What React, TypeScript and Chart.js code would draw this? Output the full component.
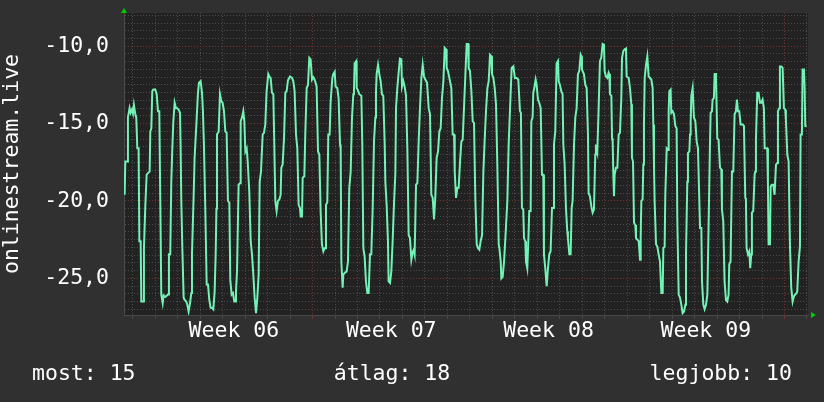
import React, { useEffect, useRef } from 'react';
import { Chart, registerables } from 'chart.js';

Chart.register(...registerables);

// ---------- data (x = hours since start of Week 06, y = value) ----------
const seriesLabel = 'onlinestream.live';
const weekLabels = ['Week 06', 'Week 07', 'Week 08', 'Week 09'];
const weekLabelHours = [84, 252, 420, 588];
const weekStartHours = [0, 168, 336, 504, 672];
const footerCurrent = 15;
const footerAverage = 18;
const footerBest = 10;

const week05: [number, number][] = [
  [-32.7, -19.6], [-32.0, -17.45], [-29.9, -17.45], [-29.2, -14.6], [-27.4, -14.0], [-26.3, -14.3],
  [-24.9, -14.1], [-23.8, -14.35], [-22.8, -13.8], [-21.3, -14.4], [-20.3, -14.6], [-19.2, -16.6],
  [-17.8, -16.6], [-17.0, -22.6], [-15.6, -22.6], [-14.9, -26.5], [-13.1, -26.5], [-12.1, -23.05],
  [-10.6, -20.25], [-9.2, -18.3], [-7.8, -18.2], [-6.0, -18.1], [-5.3, -15.5], [-4.2, -15.3],
  [-3.2, -12.9], [-2.1, -12.8],
];

const week06: [number, number][] = [
  [0.0, -12.8], [1.5, -13.1], [2.9, -14.2], [4.3, -14.2], [5.4, -20.25], [6.4, -26.05], [7.9, -26.6],
  [8.9, -26.1], [10.7, -26.2], [13.6, -26.05], [14.6, -23.45], [16.0, -23.45], [17.1, -18.75],
  [18.2, -16.6], [19.3, -14.85], [20.7, -13.65], [22.1, -14.0], [23.5, -14.0], [24.9, -14.1],
  [26.4, -14.3], [27.1, -16.6], [27.8, -20.0], [28.9, -23.05], [30.3, -26.25], [31.4, -26.4],
  [33.1, -26.5], [34.2, -26.7], [35.6, -27.15], [37.1, -26.6], [38.5, -25.95], [39.2, -23.45],
  [41.0, -19.6], [42.0, -17.2], [43.8, -15.15], [45.6, -13.0], [46.7, -12.35], [48.4, -12.25],
  [49.9, -13.0], [50.9, -14.2], [52.0, -16.45], [53.4, -20.45], [54.9, -25.4], [56.3, -25.4],
  [57.7, -26.4], [59.1, -26.9], [60.5, -26.9], [62.0, -27.0], [63.4, -25.85], [64.5, -23.45],
  [65.3, -20.5], [65.9, -15.7], [67.7, -15.5], [69.1, -13.1], [70.5, -13.55], [71.9, -13.65],
  [73.4, -14.2], [74.8, -15.5], [76.2, -15.6], [77.6, -20.0], [79.1, -20.1], [80.1, -25.1],
  [81.6, -26.05], [83.0, -25.95], [84.4, -26.5], [85.5, -26.5], [86.2, -25.85], [87.3, -24.55],
  [88.3, -24.55], [89.0, -18.95], [90.5, -18.85], [91.2, -14.85], [92.6, -14.6], [94.0, -14.2],
  [95.1, -14.85], [96.2, -16.8], [97.6, -16.6], [98.7, -17.45], [100.4, -19.4], [101.9, -22.6],
  [103.3, -23.45], [104.7, -24.75], [106.1, -26.25], [107.6, -27.25], [109.0, -26.25], [110.4, -24.75],
  [111.5, -18.75], [112.9, -18.1], [114.7, -15.7], [116.1, -15.6], [117.5, -15.05], [118.9, -12.9],
  [120.7, -11.8], [121.8, -11.95], [123.2, -12.05], [124.6, -13.0], [126.1, -13.1], [127.5, -17.65],
  [128.2, -20.0], [129.6, -20.65], [131.0, -20.0], [132.5, -19.9], [133.9, -19.6], [134.6, -17.85],
  [136.0, -17.65], [137.5, -15.95], [138.9, -13.0], [140.3, -12.9], [141.7, -12.2], [143.9, -11.95],
  [146.0, -12.05], [147.4, -12.25], [148.8, -12.9], [150.3, -15.7], [151.7, -16.6], [153.1, -20.25],
  [154.5, -20.45], [155.3, -21.0], [156.7, -21.0], [157.4, -18.5], [159.2, -18.4], [160.2, -15.7],
  [161.7, -12.7], [163.1, -12.5], [164.5, -10.75], [165.9, -10.85], [167.4, -12.15],
];

const week07: [number, number][] = [
  [168.8, -12.0], [170.2, -12.15], [172.3, -12.6], [173.8, -16.8], [175.2, -17.0], [176.6, -20.65],
  [178.0, -22.8], [179.5, -23.25], [180.9, -23.05], [182.0, -23.05], [182.3, -20.25], [183.7, -20.1],
  [184.8, -15.7], [186.2, -15.7], [187.3, -13.55], [189.1, -12.05], [190.1, -11.8], [191.6, -11.65],
  [192.6, -12.6], [194.4, -12.7], [195.8, -13.35], [197.3, -16.35], [198.0, -16.6], [198.7, -23.9],
  [200.1, -25.6], [200.8, -24.75], [202.3, -24.65], [204.4, -24.55], [205.8, -23.9], [207.2, -19.15],
  [208.7, -18.1], [210.1, -14.6], [211.5, -13.1], [212.2, -12.9], [212.9, -11.1], [214.7, -10.95],
  [215.1, -12.7], [216.5, -12.85], [217.9, -13.1], [220.1, -13.2], [221.1, -16.35], [222.2, -23.05],
  [223.6, -23.6], [225.0, -25.2], [226.5, -25.95], [227.9, -25.95], [229.3, -23.45], [230.7, -23.45],
  [232.2, -20.45], [233.6, -16.15], [235.0, -14.6], [235.7, -13.0], [236.4, -11.8], [237.9, -11.2],
  [239.3, -11.8], [240.7, -12.25], [242.1, -13.1], [243.5, -13.2], [245.0, -16.25], [245.7, -18.75],
  [247.1, -20.25], [248.5, -22.6], [249.2, -25.2], [250.7, -25.3], [252.1, -24.55], [253.5, -22.6],
  [254.9, -20.25], [256.4, -18.2], [257.1, -14.0], [258.5, -12.7], [259.9, -11.7], [261.3, -10.8],
  [262.8, -10.85], [263.5, -12.6], [264.9, -12.25], [266.3, -12.6], [267.8, -13.2], [269.2, -16.6],
  [270.6, -22.2], [272.0, -22.4], [273.5, -23.8], [274.9, -23.3], [276.0, -23.15], [277.0, -23.45],
  [278.5, -18.95], [279.9, -18.85], [281.3, -16.15], [282.7, -14.0], [284.2, -12.05], [285.6, -11.2],
  [287.0, -11.95], [288.4, -12.15], [290.2, -12.35], [292.0, -14.0], [293.4, -14.4], [294.8, -19.6],
  [296.3, -19.8], [297.7, -21.2], [299.1, -19.7], [300.5, -17.2], [302.0, -16.8], [303.4, -15.5],
  [304.8, -15.3], [306.2, -13.35], [307.7, -12.25], [309.1, -10.1], [310.5, -10.2], [311.2, -11.4],
  [312.6, -11.6], [314.1, -12.05], [316.2, -12.7], [317.6, -15.7], [319.1, -15.7], [319.8, -18.1],
  [321.2, -19.8], [322.6, -19.15], [324.0, -19.15], [325.5, -17.45], [326.9, -16.15], [328.3, -16.05],
  [329.7, -14.0], [331.2, -11.8], [332.6, -9.85], [334.0, -9.85], [334.7, -11.4],
];

const week08: [number, number][] = [
  [336.1, -11.6], [337.6, -12.9], [339.0, -14.85], [340.4, -14.95], [341.8, -19.8], [343.3, -22.8],
  [344.7, -23.05], [346.1, -23.15], [347.5, -22.6], [349.0, -22.2], [350.4, -18.1], [351.8, -16.05],
  [353.2, -14.2], [354.7, -12.7], [356.1, -12.25], [357.5, -10.55], [358.9, -10.65], [359.6, -11.8],
  [361.1, -12.05], [362.5, -12.7], [363.9, -13.75], [365.3, -17.65], [366.8, -22.8], [367.5, -23.05],
  [368.9, -23.9], [369.6, -25.0], [371.0, -24.9], [372.5, -23.9], [373.9, -22.4], [376.0, -20.0],
  [377.4, -16.35], [378.9, -14.0], [380.6, -11.4], [382.4, -11.3], [384.1, -12.05], [385.9, -12.05],
  [387.7, -12.15], [389.5, -14.2], [390.5, -14.3], [391.6, -20.45], [393.0, -20.55], [393.8, -22.4],
  [395.2, -22.6], [395.9, -23.9], [397.3, -24.35], [398.4, -22.6], [399.4, -20.65], [400.9, -20.65],
  [401.6, -14.85], [403.0, -14.6], [403.7, -13.0], [404.8, -12.7], [406.2, -12.15], [407.3, -12.5],
  [408.7, -13.45], [410.1, -13.65], [411.6, -14.0], [413.0, -18.3], [414.4, -18.3], [415.1, -23.45],
  [416.5, -24.35], [418.0, -25.5], [419.4, -24.35], [420.8, -23.45], [422.2, -23.25], [423.7, -20.45],
  [425.1, -20.45], [425.8, -16.35], [427.2, -15.5], [428.6, -11.1], [430.1, -10.95], [430.8, -12.25],
  [432.2, -12.5], [433.6, -12.9], [435.0, -13.1], [435.8, -16.35], [437.2, -17.65], [438.6, -20.45],
  [440.0, -21.95], [440.7, -22.4], [442.2, -23.45], [443.6, -23.45], [444.7, -20.45], [445.7, -20.0],
  [447.2, -16.35], [448.6, -14.6], [450.0, -14.0], [451.4, -11.8], [452.8, -11.6], [454.3, -10.55],
  [455.0, -10.65], [455.7, -11.5], [456.4, -11.6], [457.8, -11.8], [459.3, -12.5], [460.7, -12.7],
  [462.1, -15.7], [462.8, -19.5], [464.2, -19.7], [465.7, -20.35], [467.1, -20.75], [468.5, -20.55],
  [469.9, -17.0], [470.6, -16.35], [472.1, -16.8], [473.5, -14.0], [474.9, -10.95], [476.3, -10.75],
  [477.8, -9.85], [479.2, -9.9], [479.9, -11.6], [481.3, -11.95], [482.8, -12.05], [484.2, -11.7],
  [484.9, -11.8], [485.6, -13.1], [487.1, -13.2], [487.8, -15.95], [488.5, -16.15], [489.2, -18.3],
  [489.9, -19.7], [490.6, -18.3], [492.0, -17.85], [493.5, -17.85], [494.9, -15.7], [496.3, -15.6],
  [497.7, -13.35], [498.5, -10.75], [499.9, -10.3], [501.3, -10.2], [502.7, -10.15], [503.4, -11.95],
];

const week09: [number, number][] = [
  [505.6, -12.05], [507.0, -12.7], [508.4, -13.75], [509.1, -17.2], [510.2, -17.45], [511.3, -21.4],
  [512.7, -21.55], [513.4, -22.4], [514.8, -22.5], [516.3, -22.6], [517.7, -23.8], [518.4, -22.4],
  [519.1, -20.0], [520.5, -19.9], [521.2, -17.65], [521.9, -15.05], [522.7, -12.05], [524.1, -11.2],
  [525.5, -10.65], [526.9, -11.95], [528.4, -12.05], [529.8, -12.15], [531.2, -12.7], [531.9, -15.05],
  [532.6, -17.65], [533.3, -20.0], [534.8, -22.8], [536.2, -22.95], [537.6, -23.45], [539.0, -23.9],
  [540.5, -25.95], [541.9, -25.95], [542.6, -23.05], [544.0, -22.95], [544.7, -19.6], [546.2, -16.6],
  [547.6, -16.7], [548.3, -14.2], [549.0, -12.9], [550.4, -12.8], [551.1, -14.3], [552.6, -14.2],
  [554.0, -14.4], [555.4, -15.15], [556.8, -15.3], [557.5, -21.1], [559.0, -26.05], [560.4, -26.25],
  [561.8, -26.7], [563.2, -27.25], [564.7, -27.15], [566.1, -26.7], [566.8, -23.45], [568.2, -18.75],
  [568.9, -16.9], [570.4, -16.8], [571.1, -15.7], [571.8, -14.85], [572.5, -13.2], [573.9, -12.7],
  [575.3, -14.6], [576.8, -14.85], [578.2, -16.15], [579.6, -16.6], [580.3, -18.3], [581.8, -21.75],
  [583.2, -21.75], [583.9, -25.2], [585.3, -26.7], [586.7, -27.0], [588.2, -26.7], [589.6, -26.05],
  [590.9, -21.75], [592.4, -16.35], [593.1, -14.3], [594.5, -14.2], [595.2, -13.45], [596.6, -13.35],
  [597.4, -11.8], [598.8, -11.8], [600.2, -15.95], [601.6, -16.05], [603.1, -17.85], [604.5, -17.95],
  [605.2, -20.55], [606.6, -21.3], [608.0, -25.2], [609.5, -26.4], [610.9, -26.5], [612.3, -26.05],
  [613.0, -24.1], [614.4, -23.9], [615.9, -18.1], [617.3, -18.1], [618.7, -14.4], [620.1, -14.2],
  [621.2, -13.45], [622.3, -14.2], [623.7, -14.2], [625.1, -15.05], [627.3, -15.05], [628.7, -15.15],
  [630.1, -19.8], [630.8, -19.9], [631.5, -23.05], [633.0, -23.45], [634.4, -23.25], [635.4, -24.35],
  [636.5, -23.45], [637.2, -20.75], [638.6, -20.65], [640.1, -18.3], [640.8, -18.1], [641.5, -16.05],
  [642.9, -13.0], [644.3, -13.0], [645.8, -13.65], [647.2, -13.65], [648.6, -13.45], [650.0, -14.0],
  [650.8, -16.6], [653.6, -16.6], [654.3, -18.95], [655.0, -22.8], [656.5, -22.8], [657.2, -19.05],
  [658.6, -18.95], [660.0, -18.95], [661.4, -19.6], [662.9, -17.65], [664.3, -17.55], [665.0, -14.2],
  [666.4, -14.0], [667.1, -11.3], [668.6, -11.3], [670.0, -11.4],
];

const week10: [number, number][] = [
  [671.4, -14.0], [672.8, -14.1], [673.5, -14.75], [675.0, -17.0], [676.4, -17.45], [677.8, -22.8],
  [679.2, -25.6], [680.7, -26.5], [682.1, -26.15], [683.5, -26.05], [684.9, -25.95], [685.6, -25.85],
  [687.1, -23.9], [688.5, -22.95], [689.2, -15.7], [690.6, -15.7], [691.3, -11.5], [692.8, -11.5],
  [693.5, -12.7], [694.2, -15.15], [695.6, -15.15],
];

// axis ranges
const X_MIN = -33.4;
const X_MAX = 697.1;
const Y_MIN = -27.37;
const Y_MAX = -7.85;

// ---------- style ----------
const FONT = '"DejaVu Sans Mono", monospace';
const FONT_SIZE = 21.5;
const BG = '#303030';
const PLOT_BG = '#222222';
const GRID_MINOR = '#4c4c4c';
const GRID_MAJOR = '#763131';
const LINE = '#72f2b4';
const ARROW = '#00cc00';
const TEXT = '#ffffff';

const yTickValues: number[] = [];
for (let v = -27; v <= -8; v += 0.5) yTickValues.push(v);
const xTickValues: number[] = [];
for (let h = -24; h <= 696; h += 24) xTickValues.push(h);
weekLabelHours.forEach((h) => xTickValues.push(h));
xTickValues.sort((a, b) => a - b);

const isMult = (v: number, m: number) => Math.abs(v / m - Math.round(v / m)) < 1e-9;

const xGridColor = (c: any) => {
  const v = c.tick ? c.tick.value : null;
  if (v === null) return GRID_MINOR;
  if (weekLabelHours.includes(v)) return 'rgba(0,0,0,0)';
  return weekStartHours.includes(v) ? GRID_MAJOR : GRID_MINOR;
};

const decorPlugin = {
  id: 'rrdDecor',
  beforeDraw(chart: any) {
    const { ctx, chartArea: a, width, height } = chart;
    ctx.save();
    ctx.fillStyle = BG;
    ctx.fillRect(0, 0, width, height);
    ctx.fillStyle = PLOT_BG;
    ctx.fillRect(a.left, a.top, a.right - a.left, a.bottom - a.top);
    ctx.restore();
  },
  afterDraw(chart: any) {
    const { ctx, chartArea: a } = chart;
    ctx.save();
    // axis arrows
    ctx.fillStyle = ARROW;
    ctx.beginPath();
    ctx.moveTo(a.left - 3, a.top);
    ctx.lineTo(a.left + 3, a.top);
    ctx.lineTo(a.left, a.top - 5);
    ctx.closePath();
    ctx.fill();
    ctx.beginPath();
    ctx.moveTo(a.right + 3, a.bottom - 3);
    ctx.lineTo(a.right + 3, a.bottom + 3);
    ctx.lineTo(a.right + 8, a.bottom);
    ctx.closePath();
    ctx.fill();
    // footer
    ctx.fillStyle = TEXT;
    ctx.font = `${FONT_SIZE}px ${FONT}`;
    ctx.textBaseline = 'alphabetic';
    ctx.textAlign = 'left';
    ctx.fillText(`most: ${footerCurrent}`, 32, 380);
    ctx.textAlign = 'center';
    ctx.fillText(`átlag: ${footerAverage}`, 392, 380);
    ctx.textAlign = 'right';
    ctx.fillText(`legjobb: ${footerBest}`, 792, 380);
    ctx.restore();
  },
};

export default function App() {
  const canvasRef = useRef<HTMLCanvasElement | null>(null);

  useEffect(() => {
    document.body.style.margin = '0';
    document.body.style.background = BG;
    const canvas = canvasRef.current;
    if (!canvas) return;
    const points = [...week05, ...week06, ...week07, ...week08, ...week09, ...week10].map(([x, y]) => ({ x, y }));
    const font = { family: FONT, size: FONT_SIZE };

    const chart = new Chart(canvas, {
      type: 'line',
      data: {
        datasets: [
          {
            label: seriesLabel,
            data: points,
            borderColor: LINE,
            borderWidth: 2,
            pointRadius: 0,
            tension: 0,
            fill: false,
          },
        ],
      },
      options: {
        animation: false,
        responsive: false,
        devicePixelRatio: 1,
        events: [],
        layout: { padding: { left: 0, top: 13, right: 16, bottom: 37 } },
        plugins: { legend: { display: false }, tooltip: { enabled: false }, title: { display: false } },
        scales: {
          x: {
            type: 'linear',
            min: X_MIN,
            max: X_MAX,
            afterBuildTicks: (s: any) => {
              s.ticks = xTickValues.map((v) => ({ value: v }));
            },
            afterFit: (s: any) => {
              s.height = 50;
              s.paddingLeft = 0;
              s.paddingRight = 0;
            },
            grid: {
              lineWidth: 1,
              drawTicks: true,
              tickLength: 4,
              color: xGridColor,
              tickColor: xGridColor,
            },
            border: { display: true, color: '#4a4a4a', dash: [1, 2] },
            ticks: {
              autoSkip: false,
              maxRotation: 0,
              minRotation: 0,
              padding: 0,
              color: TEXT,
              font,
              callback: (v: any) => {
                const i = weekLabelHours.indexOf(Number(v));
                return i >= 0 ? weekLabels[i] : '';
              },
            },
          },
          y: {
            type: 'linear',
            min: Y_MIN,
            max: Y_MAX,
            afterBuildTicks: (s: any) => {
              s.ticks = yTickValues.map((v) => ({ value: v }));
            },
            afterFit: (s: any) => {
              s.width = 124;
              s.paddingTop = 0;
              s.paddingBottom = 0;
            },
            grid: {
              lineWidth: 1,
              drawTicks: false,
              color: (c: any) => {
                const v = c.tick ? c.tick.value : null;
                if (v === null) return GRID_MINOR;
                return isMult(v, 5) ? GRID_MAJOR : GRID_MINOR;
              },
            },
            border: { display: true, color: '#4a4a4a', dash: [1, 2] },
            ticks: {
              autoSkip: false,
              padding: 15,
              color: TEXT,
              font,
              callback: (v: any) => {
                const n = Number(v);
                return isMult(n, 5) ? n.toFixed(1).replace('.', ',') : '';
              },
            },
            title: {
              display: true,
              text: seriesLabel,
              color: TEXT,
              font,
              padding: { top: 0, bottom: 0 },
            },
          },
        },
      },
      plugins: [decorPlugin],
    } as any);

    return () => chart.destroy();
  }, []);

  return (
    <div style={{ width: 824, height: 402, background: BG }}>
      <canvas ref={canvasRef} width={824} height={402} style={{ display: 'block' }} />
    </div>
  );
}
